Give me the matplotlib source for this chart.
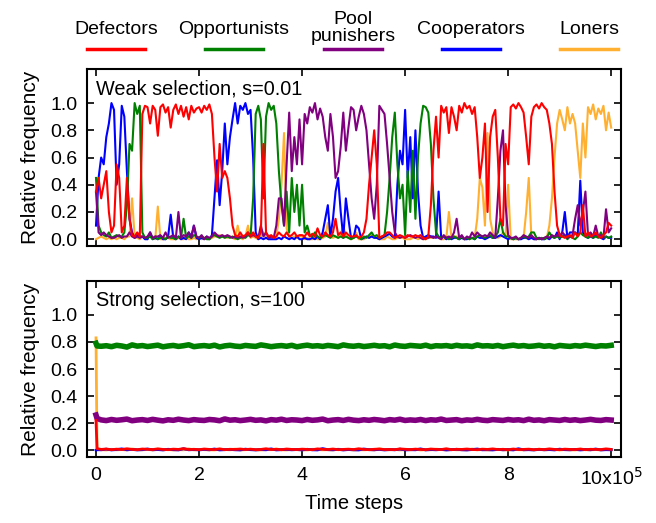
import matplotlib.pyplot as plt
import numpy as np
from matplotlib.lines import Line2D

plt.rcParams['font.family'] = ['Liberation Sans', 'DejaVu Sans']

# strategy names and colours (legend order)
names = ['Defectors', 'Opportunists', 'Pool\npunishers', 'Cooperators', 'Loners']
colors = ['#ff0000', '#008000', '#800080', '#0000ff', '#ffb030']

# ---- weak selection, s=0.01 : values every 0.05 x 10^5 steps
t_weak = np.linspace(0, 10, 201)

weak_def = [
    0.35, 0.45, 0.30, 0.40, 0.50, 0.20, 0.05, 0.10, 0.55, 0.45,
    0.05, 0.10, 0.45, 0.15, 0.03, 0.02, 0.05, 0.02, 0.92, 0.98,
    0.97, 0.85, 0.98, 0.95, 0.76, 0.97, 0.99, 0.93, 0.97, 0.82,
    0.95, 0.99, 0.92, 0.98, 0.90, 0.97, 0.88, 0.98, 0.93, 0.96,
    0.97, 0.93, 0.98, 0.95, 0.99, 0.92, 0.60, 0.35, 0.70, 0.45,
    0.50, 0.45, 0.30, 0.10, 0.03, 0.02, 0.05, 0.02, 0.03, 0.05,
    0.02, 0.05, 0.02, 0.01, 0.05, 0.70, 0.05, 0.02, 0.03, 0.01,
    0.02, 0.05, 0.03, 0.02, 0.05, 0.02, 0.03, 0.05, 0.02, 0.03,
    0.03, 0.02, 0.05, 0.02, 0.04, 0.02, 0.08, 0.03, 0.02, 0.05,
    0.03, 0.02, 0.05, 0.15, 0.03, 0.05, 0.02, 0.05, 0.03, 0.02,
    0.02, 0.03, 0.01, 0.02, 0.05, 0.15, 0.40, 0.60, 0.80, 0.55,
    0.01, 0.02, 0.03, 0.05, 0.05, 0.03, 0.01, 0.02, 0.03, 0.02,
    0.01, 0.03, 0.02, 0.02, 0.03, 0.02, 0.03, 0.01, 0.00, 0.02,
    0.25, 0.65, 0.90, 0.60, 0.98, 0.93, 0.97, 0.78, 0.97, 0.90,
    0.80, 0.98, 0.93, 1.00, 0.96, 0.98, 0.92, 0.97, 0.75, 0.45,
    0.60, 0.85, 0.20, 0.75, 0.90, 0.95, 0.60, 0.15, 0.10, 0.70,
    0.55, 0.97, 0.99, 0.96, 1.00, 0.97, 0.93, 0.75, 0.55, 0.90,
    0.97, 0.99, 0.96, 1.00, 0.97, 0.95, 0.85, 0.70, 0.35, 0.10,
    0.03, 0.02, 0.01, 0.02, 0.03, 0.01, 0.05, 0.02, 0.05, 0.25,
    0.02, 0.05, 0.02, 0.03, 0.05, 0.02, 0.01, 0.03, 0.05, 0.12, 0.10]

weak_opp = [
    0.45, 0.10, 0.05, 0.03, 0.02, 0.05, 0.01, 0.02, 0.03, 0.02,
    0.02, 0.05, 0.25, 0.70, 0.65, 1.00, 0.92, 0.98, 0.05, 0.01,
    0.01, 0.02, 0.00, 0.02, 0.00, 0.01, 0.01, 0.00, 0.02, 0.01,
    0.01, 0.00, 0.02, 0.01, 0.15, 0.01, 0.02, 0.01, 0.03, 0.02,
    0.01, 0.02, 0.01, 0.00, 0.00, 0.02, 0.03, 0.02, 0.01, 0.02,
    0.01, 0.02, 0.01, 0.02, 0.01, 0.00, 0.01, 0.02, 0.01, 0.03,
    0.02, 0.30, 0.92, 0.98, 0.88, 0.30, 0.90, 1.00, 0.95, 0.98,
    0.85, 0.50, 0.25, 0.10, 0.35, 0.05, 0.45, 0.20, 0.40, 0.10,
    0.40, 0.05, 0.10, 0.03, 0.02, 0.05, 0.02, 0.01, 0.02, 0.03,
    0.02, 0.01, 0.03, 0.02, 0.01, 0.02, 0.01, 0.02, 0.01, 0.00,
    0.01, 0.02, 0.01, 0.00, 0.02, 0.01, 0.03, 0.05, 0.02, 0.03,
    0.01, 0.02, 0.03, 0.20, 0.45, 0.75, 0.93, 0.55, 0.30, 0.40,
    0.03, 0.50, 0.20, 0.65, 0.15, 0.60, 0.85, 0.98, 0.97, 0.93,
    0.70, 0.30, 0.05, 0.02, 0.01, 0.02, 0.01, 0.00, 0.01, 0.02,
    0.01, 0.00, 0.02, 0.00, 0.01, 0.00, 0.01, 0.00, 0.02, 0.03,
    0.02, 0.01, 0.02, 0.03, 0.01, 0.02, 0.05, 0.15, 0.05, 0.02,
    0.02, 0.01, 0.00, 0.01, 0.00, 0.01, 0.02, 0.01, 0.02, 0.05,
    0.05, 0.01, 0.00, 0.01, 0.00, 0.01, 0.05, 0.02, 0.01, 0.02,
    0.01, 0.02, 0.03, 0.00, 0.02, 0.01, 0.00, 0.02, 0.05, 0.03,
    0.02, 0.01, 0.03, 0.01, 0.02, 0.01, 0.05, 0.01, 0.02, 0.01, 0.02]

weak_pun = [
    0.35, 0.05, 0.03, 0.05, 0.03, 0.02, 0.01, 0.01, 0.02, 0.03,
    0.01, 0.02, 0.02, 0.05, 0.02, 0.01, 0.02, 0.01, 0.02, 0.01,
    0.02, 0.05, 0.01, 0.02, 0.02, 0.03, 0.01, 0.05, 0.01, 0.02,
    0.03, 0.01, 0.20, 0.01, 0.03, 0.02, 0.05, 0.01, 0.10, 0.02,
    0.01, 0.03, 0.00, 0.02, 0.01, 0.02, 0.05, 0.03, 0.02, 0.03,
    0.02, 0.03, 0.02, 0.01, 0.02, 0.01, 0.02, 0.01, 0.02, 0.05,
    0.02, 0.03, 0.02, 0.01, 0.10, 0.02, 0.05, 0.01, 0.02, 0.01,
    0.10, 0.30, 0.30, 0.10, 0.55, 0.93, 0.50, 0.75, 0.55, 0.88,
    0.55, 0.92, 0.85, 0.97, 0.93, 1.00, 0.88, 0.96, 0.90, 0.75,
    0.65, 0.92, 0.75, 0.45, 0.50, 0.68, 0.93, 0.65, 0.82, 0.97,
    0.95, 0.80, 0.90, 0.98, 0.92, 0.80, 0.55, 0.30, 0.15, 0.40,
    0.98, 0.95, 0.92, 0.70, 0.45, 0.20, 0.05, 0.02, 0.01, 0.02,
    0.01, 0.02, 0.03, 0.02, 0.01, 0.02, 0.01, 0.00, 0.01, 0.01,
    0.02, 0.01, 0.02, 0.01, 0.00, 0.03, 0.01, 0.02, 0.01, 0.05,
    0.15, 0.01, 0.03, 0.00, 0.02, 0.01, 0.05, 0.02, 0.05, 0.03,
    0.02, 0.03, 0.02, 0.05, 0.03, 0.01, 0.30, 0.65, 0.80, 0.25,
    0.03, 0.01, 0.01, 0.02, 0.00, 0.01, 0.03, 0.02, 0.01, 0.03,
    0.01, 0.00, 0.01, 0.00, 0.01, 0.02, 0.01, 0.03, 0.02, 0.03,
    0.02, 0.05, 0.03, 0.01, 0.02, 0.03, 0.15, 0.25, 0.10, 0.20,
    0.35, 0.03, 0.05, 0.02, 0.10, 0.02, 0.03, 0.01, 0.22, 0.05, 0.08]

weak_coop = [
    0.10, 0.45, 0.60, 0.55, 0.75, 0.85, 1.00, 0.95, 0.40, 0.55,
    0.98, 0.90, 0.50, 0.15, 0.05, 0.01, 0.03, 0.02, 0.02, 0.00,
    0.00, 0.05, 0.00, 0.01, 0.00, 0.02, 0.00, 0.00, 0.02, 0.18,
    0.01, 0.00, 0.02, 0.00, 0.01, 0.00, 0.05, 0.02, 0.10, 0.01,
    0.00, 0.01, 0.00, 0.02, 0.00, 0.03, 0.30, 0.58, 0.25, 0.50,
    0.85, 0.55, 0.75, 0.88, 1.00, 0.85, 0.98, 0.95, 1.00, 0.92,
    0.95, 0.60, 0.05, 0.00, 0.01, 0.00, 0.01, 0.00, 0.00, 0.00,
    0.00, 0.01, 0.00, 0.02, 0.01, 0.00, 0.01, 0.00, 0.02, 0.00,
    0.00, 0.01, 0.00, 0.00, 0.01, 0.00, 0.02, 0.00, 0.05, 0.15,
    0.25, 0.02, 0.15, 0.35, 0.45, 0.20, 0.01, 0.30, 0.15, 0.01,
    0.01, 0.10, 0.08, 0.00, 0.01, 0.02, 0.01, 0.02, 0.01, 0.01,
    0.00, 0.01, 0.02, 0.03, 0.04, 0.02, 0.01, 0.40, 0.65, 0.55,
    0.95, 0.45, 0.75, 0.30, 0.80, 0.35, 0.10, 0.01, 0.02, 0.03,
    0.02, 0.02, 0.01, 0.35, 0.01, 0.02, 0.00, 0.01, 0.00, 0.01,
    0.01, 0.00, 0.01, 0.00, 0.00, 0.01, 0.01, 0.00, 0.02, 0.01,
    0.01, 0.00, 0.01, 0.02, 0.01, 0.01, 0.02, 0.03, 0.02, 0.01,
    0.00, 0.01, 0.00, 0.01, 0.00, 0.00, 0.01, 0.01, 0.00, 0.01,
    0.00, 0.00, 0.01, 0.00, 0.00, 0.01, 0.00, 0.02, 0.01, 0.05,
    0.00, 0.05, 0.20, 0.01, 0.05, 0.05, 0.05, 0.03, 0.43, 0.05,
    0.02, 0.01, 0.02, 0.01, 0.03, 0.02, 0.01, 0.00, 0.02, 0.01, 0.01]

weak_lon = [
    0.00, 0.01, 0.02, 0.01, 0.00, 0.01, 0.00, 0.01, 0.00, 0.01,
    0.01, 0.00, 0.02, 0.02, 0.30, 0.02, 0.01, 0.00, 0.02, 0.01,
    0.00, 0.03, 0.01, 0.00, 0.24, 0.00, 0.00, 0.01, 0.01, 0.00,
    0.00, 0.00, 0.01, 0.00, 0.00, 0.01, 0.00, 0.00, 0.01, 0.00,
    0.01, 0.00, 0.01, 0.01, 0.00, 0.01, 0.02, 0.02, 0.03, 0.02,
    0.02, 0.01, 0.02, 0.01, 0.00, 0.10, 0.01, 0.00, 0.02, 0.10,
    0.01, 0.02, 0.01, 0.00, 0.02, 0.05, 0.01, 0.00, 0.02, 0.01,
    0.02, 0.15, 0.40, 0.78, 0.08, 0.02, 0.01, 0.02, 0.01, 0.02,
    0.02, 0.00, 0.01, 0.00, 0.00, 0.01, 0.00, 0.00, 0.01, 0.02,
    0.12, 0.02, 0.01, 0.02, 0.01, 0.03, 0.10, 0.02, 0.01, 0.00,
    0.01, 0.05, 0.00, 0.00, 0.00, 0.02, 0.01, 0.03, 0.02, 0.01,
    0.00, 0.00, 0.00, 0.02, 0.01, 0.00, 0.00, 0.01, 0.01, 0.01,
    0.00, 0.00, 0.00, 0.01, 0.01, 0.00, 0.01, 0.00, 0.00, 0.01,
    0.01, 0.01, 0.02, 0.01, 0.00, 0.00, 0.01, 0.20, 0.01, 0.02,
    0.02, 0.01, 0.01, 0.00, 0.01, 0.00, 0.01, 0.01, 0.15, 0.45,
    0.38, 0.10, 0.78, 0.15, 0.05, 0.02, 0.01, 0.02, 0.05, 0.02,
    0.40, 0.00, 0.00, 0.00, 0.00, 0.01, 0.01, 0.20, 0.45, 0.02,
    0.00, 0.00, 0.01, 0.00, 0.01, 0.01, 0.10, 0.30, 0.60, 0.85,
    0.95, 0.88, 0.80, 0.97, 0.85, 0.92, 0.85, 0.65, 0.45, 0.85,
    0.60, 0.97, 0.92, 0.99, 0.88, 0.96, 0.92, 0.98, 0.80, 0.93, 0.82]

# ---- strong selection, s=100 : start, short transient, then every 0.1 x 10^5 steps
t_strong = np.concatenate([[0.0, 0.02], np.arange(1, 101) / 10])

strong_opp = [0.79, 0.77,
    0.768, 0.772, 0.765, 0.775, 0.770, 0.762, 0.778, 0.769, 0.773, 0.766,
    0.771, 0.776, 0.764, 0.770, 0.774, 0.767, 0.772, 0.779, 0.765, 0.770,
    0.773, 0.768, 0.776, 0.763, 0.771, 0.775, 0.769, 0.766, 0.774, 0.770,
    0.767, 0.778, 0.772, 0.765, 0.770, 0.773, 0.768, 0.775, 0.764, 0.771,
    0.776, 0.769, 0.772, 0.767, 0.774, 0.770, 0.765, 0.778, 0.771, 0.768,
    0.773, 0.766, 0.770, 0.775, 0.769, 0.772, 0.764, 0.777, 0.770, 0.767,
    0.774, 0.771, 0.768, 0.776, 0.765, 0.772, 0.770, 0.773, 0.767, 0.775,
    0.769, 0.771, 0.766, 0.778, 0.770, 0.772, 0.768, 0.774, 0.765, 0.771,
    0.776, 0.769, 0.773, 0.767, 0.770, 0.775, 0.768, 0.772, 0.764, 0.774,
    0.770, 0.767, 0.773, 0.769, 0.776, 0.771, 0.766, 0.772, 0.770, 0.775]

strong_pun = [0.26, 0.235,
    0.224, 0.219, 0.227, 0.221, 0.225, 0.230, 0.218, 0.223, 0.226, 0.220,
    0.228, 0.222, 0.217, 0.225, 0.221, 0.229, 0.223, 0.219, 0.226, 0.222,
    0.220, 0.227, 0.224, 0.218, 0.231, 0.222, 0.225, 0.219, 0.223, 0.228,
    0.221, 0.224, 0.217, 0.226, 0.222, 0.229, 0.220, 0.225, 0.223, 0.219,
    0.227, 0.221, 0.224, 0.230, 0.218, 0.223, 0.226, 0.220, 0.228, 0.222,
    0.219, 0.225, 0.221, 0.227, 0.223, 0.218, 0.226, 0.222, 0.229, 0.220,
    0.224, 0.221, 0.227, 0.219, 0.225, 0.222, 0.230, 0.220, 0.223, 0.226,
    0.218, 0.224, 0.221, 0.228, 0.222, 0.219, 0.226, 0.223, 0.220, 0.227,
    0.222, 0.225, 0.219, 0.229, 0.221, 0.224, 0.218, 0.226, 0.223, 0.220,
    0.227, 0.221, 0.225, 0.219, 0.223, 0.228, 0.222, 0.220, 0.226, 0.223]

strong_def = [0.22, 0.012,
    0.006, 0.009, 0.004, 0.008, 0.005, 0.011, 0.006, 0.004, 0.009, 0.007,
    0.005, 0.010, 0.006, 0.004, 0.008, 0.006, 0.012, 0.005, 0.007, 0.004,
    0.009, 0.006, 0.005, 0.010, 0.004, 0.007, 0.006, 0.009, 0.005, 0.008,
    0.004, 0.006, 0.011, 0.005, 0.007, 0.004, 0.009, 0.006, 0.005, 0.008,
    0.006, 0.004, 0.010, 0.007, 0.005, 0.009, 0.004, 0.006, 0.008, 0.005,
    0.011, 0.006, 0.004, 0.007, 0.009, 0.005, 0.006, 0.004, 0.010, 0.007,
    0.005, 0.008, 0.006, 0.004, 0.009, 0.006, 0.005, 0.011, 0.004, 0.007,
    0.006, 0.009, 0.005, 0.004, 0.008, 0.006, 0.010, 0.005, 0.007, 0.004,
    0.009, 0.005, 0.006, 0.008, 0.004, 0.007, 0.005, 0.010, 0.006, 0.004,
    0.008, 0.006, 0.005, 0.009, 0.004, 0.007, 0.006, 0.005, 0.010, 0.006]

strong_coop = [0.0, 0.004,
    0.003, 0.008, 0.002, 0.005, 0.010, 0.003, 0.006, 0.002, 0.004, 0.009,
    0.003, 0.005, 0.002, 0.007, 0.004, 0.002, 0.011, 0.003, 0.005, 0.002,
    0.006, 0.003, 0.009, 0.002, 0.004, 0.006, 0.003, 0.002, 0.008, 0.004,
    0.002, 0.005, 0.003, 0.010, 0.002, 0.004, 0.006, 0.003, 0.005, 0.002,
    0.007, 0.003, 0.002, 0.012, 0.004, 0.003, 0.006, 0.002, 0.005, 0.003,
    0.002, 0.009, 0.004, 0.003, 0.006, 0.002, 0.005, 0.003, 0.008, 0.002,
    0.004, 0.003, 0.010, 0.002, 0.005, 0.003, 0.006, 0.002, 0.004, 0.007,
    0.003, 0.002, 0.005, 0.009, 0.003, 0.004, 0.002, 0.006, 0.003, 0.005,
    0.002, 0.011, 0.003, 0.004, 0.002, 0.006, 0.003, 0.005, 0.002, 0.008,
    0.004, 0.003, 0.006, 0.002, 0.005, 0.003, 0.009, 0.002, 0.004, 0.003]

strong_lon = [0.83, 0.006,
    0.004, 0.002, 0.007, 0.003, 0.005, 0.002, 0.009, 0.004, 0.003, 0.006,
    0.002, 0.008, 0.003, 0.005, 0.002, 0.004, 0.003, 0.010, 0.002, 0.006,
    0.004, 0.003, 0.002, 0.007, 0.005, 0.003, 0.008, 0.002, 0.004, 0.006,
    0.003, 0.002, 0.005, 0.004, 0.009, 0.003, 0.002, 0.006, 0.004, 0.003,
    0.002, 0.007, 0.005, 0.003, 0.004, 0.002, 0.008, 0.003, 0.006, 0.002,
    0.004, 0.003, 0.005, 0.002, 0.010, 0.004, 0.003, 0.006, 0.002, 0.005,
    0.003, 0.007, 0.002, 0.004, 0.003, 0.008, 0.005, 0.002, 0.006, 0.003,
    0.004, 0.002, 0.009, 0.003, 0.005, 0.002, 0.004, 0.007, 0.003, 0.002,
    0.006, 0.004, 0.003, 0.005, 0.002, 0.008, 0.003, 0.004, 0.006, 0.002,
    0.005, 0.003, 0.002, 0.007, 0.004, 0.003, 0.005, 0.002, 0.006, 0.004]

weak = [weak_def, weak_opp, weak_pun, weak_coop, weak_lon]
strong = [strong_def, strong_opp, strong_pun, strong_coop, strong_lon]

yticks = [0.0, 0.2, 0.4, 0.6, 0.8, 1.0]

fig = plt.figure(figsize=(6.56, 5.23), dpi=100)
ax1 = fig.add_axes([0.1326, 0.5296, 0.814, 0.3384])
ax2 = fig.add_axes([0.1326, 0.1262, 0.814, 0.3365])

# drawing order: loners, cooperators, opportunists, punishers, defectors
order = [4, 3, 1, 2, 0]
for i in order:
    ax1.plot(t_weak, weak[i], color=colors[i], lw=1.5)
for i in order:
    lw = 4.0 if i in (1, 2) else 2.0
    ax2.plot(t_strong, strong[i], color=colors[i], lw=lw)

for ax in (ax1, ax2):
    ax.set_xlim(-0.175, 10.19)
    ax.set_ylim(-0.05, 1.25)
    ax.set_yticks(yticks)
    ax.set_yticklabels(['%.1f' % v for v in yticks])
    ax.set_xticks([0, 2, 4, 6, 8, 10])
    ax.tick_params(direction='in', top=True, right=True, length=5, width=1.2,
                   labelsize=14, pad=7)
    for s in ax.spines.values():
        s.set_linewidth(1.5)
    ax.set_ylabel('Relative frequency', fontsize=15, labelpad=7)

ax1.set_xticklabels([])
ax2.set_xticklabels(['0', '2', '4', '6', '8', '10x10$^{5}$'])
ax2.set_xlabel('Time steps', fontsize=14.5, labelpad=4)

ax1.text(0.017, 0.89, 'Weak selection, s=0.01', transform=ax1.transAxes,
         fontsize=14.3, va='center', ha='left')
ax2.text(0.017, 0.89, 'Strong selection, s=100', transform=ax2.transAxes,
         fontsize=14.3, va='center', ha='left')

# legend across the top
xc = [116, 234, 353, 471, 589]
for i in range(5):
    x = xc[i] / 656
    ty = 1 - 28 / 523 if '\n' in names[i] else 1 - 30 / 523
    fig.text(x, ty, names[i], ha='center', va='center', fontsize=14,
             linespacing=0.95)
    fig.add_artist(Line2D([x - 29 / 656, x + 29 / 656], [1 - 49 / 523] * 2,
                          color=colors[i], lw=2.5, transform=fig.transFigure))

fig.savefig('out.png', dpi=100)
